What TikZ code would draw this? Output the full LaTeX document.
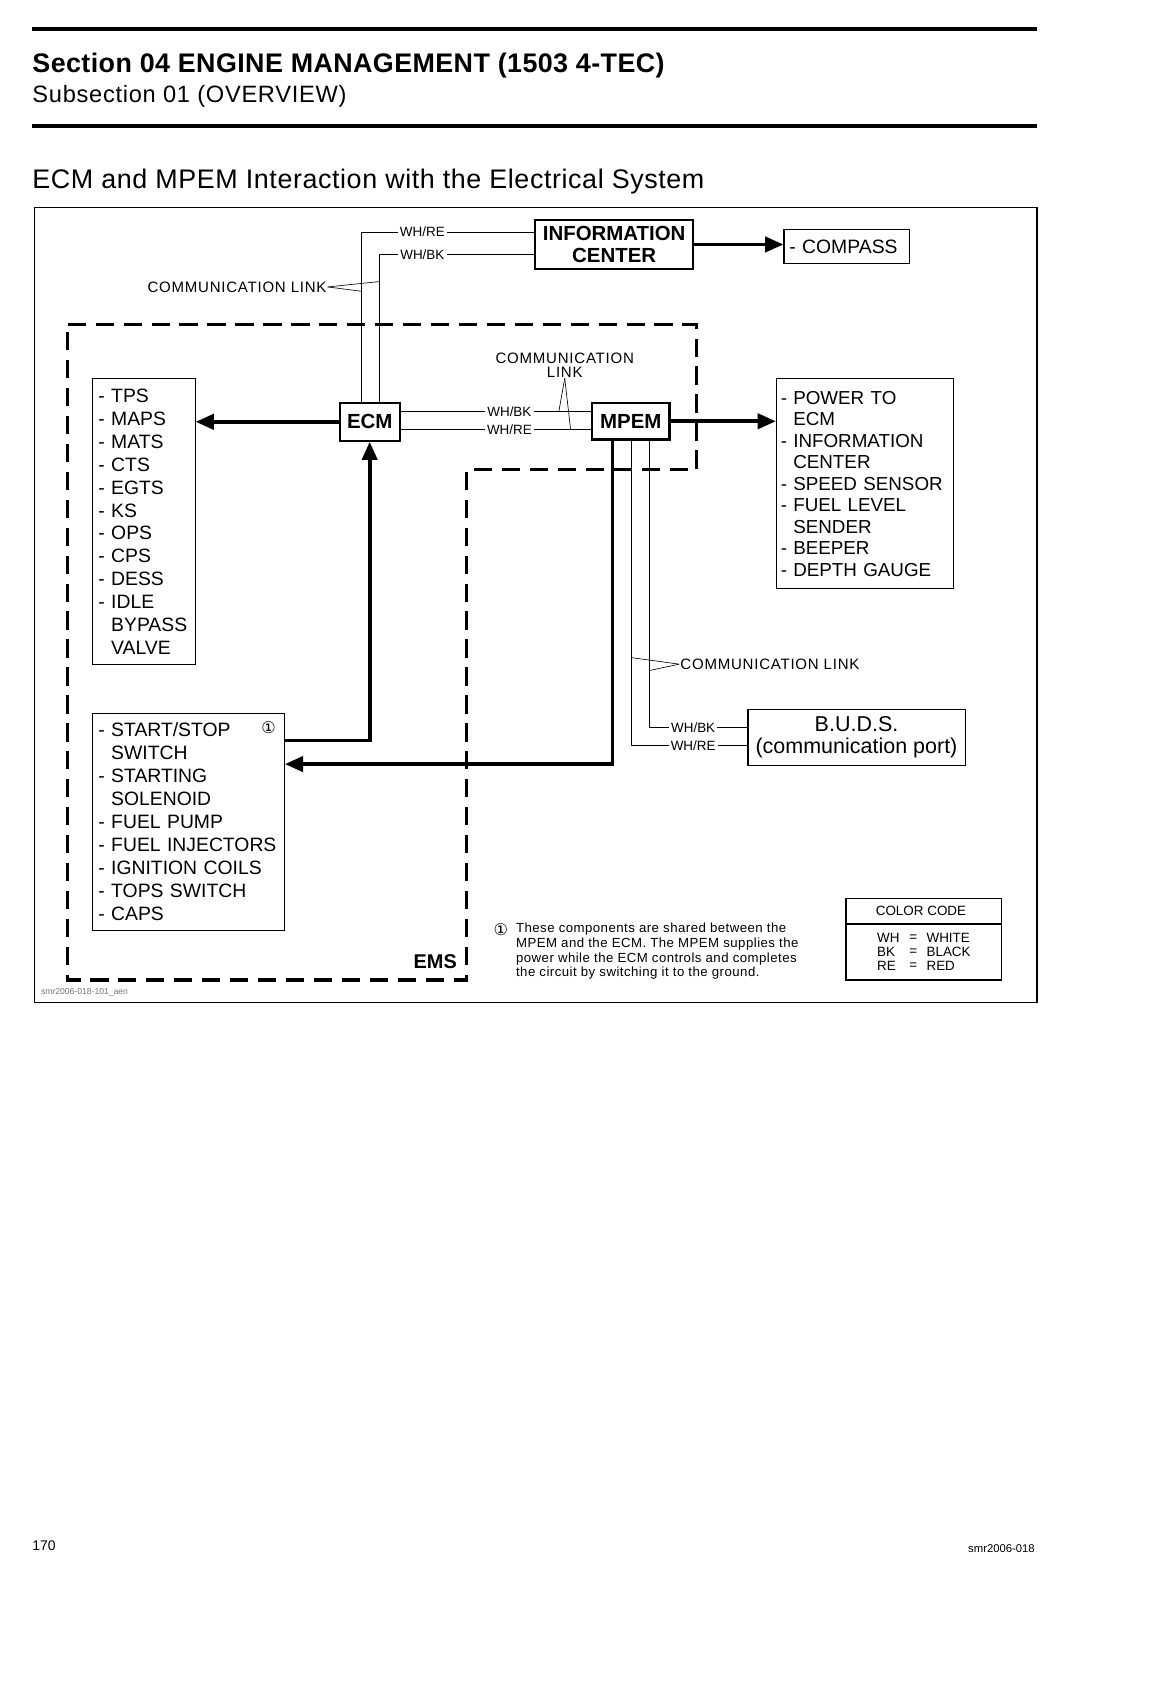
\documentclass[tikz,border=0pt]{standalone}
\usepackage{fontspec}
\setmainfont{Liberation Sans}
\newfontfamily\symfont{DejaVu Sans}
\usetikzlibrary{arrows.meta}
\tikzset{
  thickbox/.style={draw,line width=2pt,inner sep=0pt,align=center,font=\fontsize{19}{20}\selectfont\bfseries},
  listbox/.style={draw,line width=1pt,inner xsep=5pt,inner ysep=0pt,align=left,anchor=north west},
  power/.style={line width=3.6pt,-{Triangle[length=17pt,width=14pt]}},
  wire/.style={line width=0.8pt},
  pointer/.style={line width=0.6pt},
  wirelabel/.style={fill=white,inner xsep=2pt,inner ysep=1pt,font=\fontsize{12.5}{12.5}\selectfont},
  linklabel/.style={inner sep=1pt,align=center,font=\fontsize{14}{13}\selectfont\addfontfeature{LetterSpace=5}},
  emsline/.style={line width=3pt,dash pattern=on 17pt off 9pt},
}
\begin{document}
\begin{tikzpicture}[x=1pt,y=-1pt]
    \useasboundingbox (0,0) rectangle (1072,1567);
    % Page header
    \draw[line width=4pt] (30,27) -- (965,27);
    \node[anchor=base west,inner sep=0pt,font=\fontsize{25}{25}\selectfont\bfseries\addfontfeature{LetterSpace=1.5}] (section) at (30,67) {Section 04 ENGINE MANAGEMENT (1503 4-TEC)};
    \node[anchor=base west,inner sep=0pt,font=\fontsize{22}{22}\selectfont\addfontfeature{LetterSpace=3}] (subsection) at (30,95) {Subsection 01 (OVERVIEW)};
    \draw[line width=4pt] (30,117) -- (965,117);
    \node[anchor=base west,inner sep=0pt,font=\fontsize{25}{25}\selectfont\addfontfeature{LetterSpace=2.2}] (heading) at (30,175) {ECM and MPEM Interaction with the Electrical System};
    % Frame
    \draw[line width=1.5pt] (32,193) rectangle (965,933);
    % EMS boundary
    \draw[emsline] (63,302) -- (648,302) -- (648,437) -- (434,437) -- (434,912) -- (63,912) -- cycle;
    \node[font=\fontsize{18.5}{18.5}\selectfont\bfseries] (ems) at (405,895) {EMS};
    % Nodes
    \node[thickbox,minimum width=147pt,minimum height=45pt] (infoctr) at (571.5,227.5) {INFORMATION\\CENTER};
    \node[listbox,text width=107pt,minimum height=32pt,font=\fontsize{18}{20}\selectfont] (compass) at (729,213) {- COMPASS};
    \node[thickbox,minimum width=56pt,minimum height=35pt] (ecm) at (344,392.5) {ECM};
    \node[thickbox,minimum width=72pt,minimum height=34pt] (mpem) at (587,392) {MPEM};
    \node[listbox,text width=85pt,minimum height=266pt,font=\fontsize{18}{21.3}\selectfont] (sensors) at (86,352)
        {- TPS\\- MAPS\\- MATS\\- CTS\\- EGTS\\- KS\\- OPS\\- CPS\\- DESS\\- IDLE\\\phantom{- }BYPASS\\\phantom{- }VALVE};
    \node[listbox,inner xsep=4pt,text width=157pt,minimum height=195pt,font=\fontsize{17.5}{20}\selectfont] (outputs) at (722,352)
        {- POWER TO\\\phantom{- }ECM\\- INFORMATION\\\phantom{- }CENTER\\- \mbox{SPEED SENSOR}\\- FUEL LEVEL\\\phantom{- }SENDER\\- BEEPER\\- DEPTH GAUGE};
    \node[listbox,text width=168pt,minimum height=202pt,font=\fontsize{18}{21.4}\selectfont] (shared) at (86,663)
        {- START/STOP\\\phantom{- }SWITCH\\- STARTING\\\phantom{- }SOLENOID\\- FUEL PUMP\\- FUEL INJECTORS\\- IGNITION COILS\\- TOPS SWITCH\\- CAPS};
    \node[font=\symfont\fontsize{15}{15}\selectfont,inner sep=0pt] (sharedmark) at (250,677) {①};
    \node[draw,line width=1pt,minimum width=202pt,minimum height=52pt,inner sep=0pt,align=center,font=\fontsize{20}{21}\selectfont] (buds) at (797,686) {B.U.D.S.\\(communication port)};
    % Edges
    \draw[power] (infoctr.east) -- (infoctr.east -| compass.west);
    \draw[power] (ecm.west) -- (ecm.west -| sensors.east);
    \draw[power] (mpem.east) -- (mpem.east -| outputs.west);
    \draw[power] ([yshift=-26pt]shared.north east) -| (ecm.south);
    \draw[power] ([xshift=-17pt]mpem.south) |- ([yshift=-48pt]shared.north east);
    \draw[wire] ([xshift=-8pt]ecm.north) |- ([yshift=11.5pt]infoctr.west);
    \draw[wire] ([xshift=9pt]ecm.north) |- ([yshift=-9.5pt]infoctr.west);
    \draw[wire] ([yshift=9.5pt]ecm.east) -- ([yshift=9.5pt]ecm.east -| mpem.west);
    \draw[wire] ([yshift=-7.5pt]ecm.east) -- ([yshift=-7.5pt]ecm.east -| mpem.west);
    \draw[wire] ([xshift=17pt]mpem.south) |- ([yshift=9pt]buds.west);
    \draw[wire] ([xshift=1pt]mpem.south) |- ([yshift=-8pt]buds.west);
    % Wire colours
    \node[wirelabel] (wrinfo) at (393,216) {WH/RE};
    \node[wirelabel] (wbinfo) at (393,237) {WH/BK};
    \node[wirelabel] (wbecm) at (474,383) {WH/BK};
    \node[wirelabel] (wrecm) at (474,400) {WH/RE};
    \node[wirelabel] (wbbuds) at (645,677) {WH/BK};
    \node[wirelabel] (wrbuds) at (645,694) {WH/RE};
    % Communication links
    \node[linklabel,anchor=east] (linktop) at (305,267) {COMMUNICATION LINK};
    \coordinate (linktopre) at (336,271);
    \coordinate (linktopbk) at (353,262);
    \draw[pointer] (linktop.east) -- (linktopre);
    \draw[pointer] (linktop.east) -- (linktopbk);
    \node[linklabel,anchor=south] (linkmid) at (525.5,352) {COMMUNICATION\\LINK};
    \coordinate (linkmidbk) at (520,383);
    \coordinate (linkmidre) at (531,400);
    \draw[pointer] (linkmid.south) -- (linkmidbk);
    \draw[pointer] (linkmid.south) -- (linkmidre);
    \node[linklabel,anchor=west] (linkbot) at (632,618) {COMMUNICATION LINK};
    \coordinate (linkbotre) at (588,612);
    \coordinate (linkbotbk) at (604,624);
    \draw[pointer] (linkbot.west) -- (linkbotre);
    \draw[pointer] (linkbot.west) -- (linkbotbk);
    % Note
    \node[font=\symfont\fontsize{15}{15}\selectfont,inner sep=0pt] (notemark) at (466,865) {①};
    \node[anchor=north west,inner sep=0pt,align=left,font=\fontsize{12.3}{13.6}\selectfont\addfontfeature{LetterSpace=3.5}] (note) at (480,859)
        {These components are shared between the\\MPEM and the ECM. The MPEM supplies the\\power while the ECM controls and completes\\the circuit by switching it to the ground.};
    % Colour code
    \node[draw,line width=1.5pt,minimum width=145pt,minimum height=76pt] (colorcode) at (859.5,874) {};
    \draw[line width=1.5pt] (colorcode.west |- 0,860) -- (colorcode.east |- 0,860);
    \node[font=\fontsize{12.5}{12.5}\selectfont] (cctitle) at (857,848) {COLOR CODE};
    \node[anchor=west,inner sep=0pt,align=left,font=\fontsize{12.5}{13}\selectfont] (ccabbr) at (816,886) {WH\\BK\\RE};
    \node[anchor=west,inner sep=0pt,align=left,font=\fontsize{12.5}{13}\selectfont] (cceq) at (846,886) {=\\=\\=};
    \node[anchor=west,inner sep=0pt,align=left,font=\fontsize{12.5}{13}\selectfont] (ccname) at (862,886) {WHITE\\BLACK\\RED};
    \node[anchor=west,inner sep=0pt,text=black!55,font=\fontsize{8}{8}\selectfont] (figref) at (38,923) {smr2006-018-101\_aen};
    % Page footer
    \node[anchor=west,inner sep=0pt,font=\fontsize{13}{13}\selectfont] (pageno) at (30,1438) {170};
    \node[anchor=east,inner sep=0pt,font=\fontsize{10.5}{10.5}\selectfont] (docref) at (963,1441) {smr2006-018};
\end{tikzpicture}
\end{document}
